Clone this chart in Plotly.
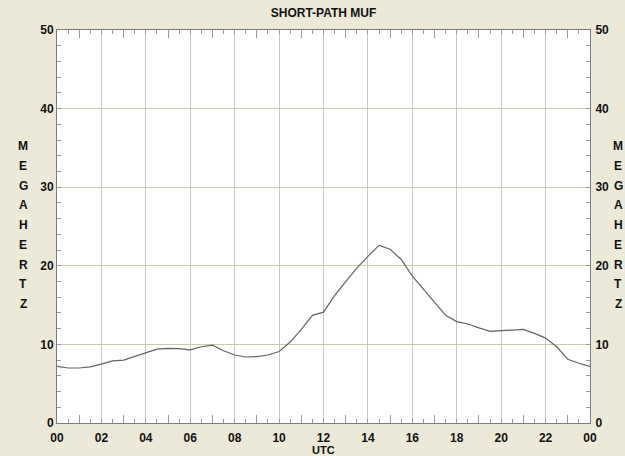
import plotly.graph_objects as go

hours = [i * 0.5 for i in range(49)]
muf = [7.2, 7.0, 7.0, 7.15, 7.5, 7.9, 8.0, 8.5, 9.0, 9.4,
       9.5, 9.45, 9.3, 9.7, 9.9, 9.2, 8.65, 8.4, 8.45, 8.65,
       9.1, 10.3, 11.9, 13.7, 14.1, 16.2, 18.0, 19.7, 21.2, 22.6,
       22.1, 20.8, 18.7, 17.0, 15.3, 13.7, 12.9, 12.6, 12.1, 11.65,
       11.75, 11.8, 11.9, 11.4, 10.8, 9.7, 8.1, 7.6, 7.2]

x_tickvals = list(range(0, 25, 2))
x_ticktext = ["00", "02", "04", "06", "08", "10", "12", "14", "16", "18", "20", "22", "00"]
odd_hours = list(range(1, 24, 2))
y_tickvals = [0, 10, 20, 30, 40, 50]
ylabel_letters = list("MEGAHERTZ")
title_text = "SHORT-PATH MUF"
xtitle_text = "UTC"

BG = "#ECE9D8"
GRID = "#cdc8b4"
TICK = "#a09890"
FONT = dict(family="Liberation Sans, Arial, sans-serif", size=12, color="#111111")

W, H = 625, 456
PL, PR, PT, PB = 57, 590, 30, 423   # plot area in window pixels
L, R, T, B = PL, W - PR, PT, H - PB
pw, ph = PR - PL, PB - PT

fig = go.Figure()
fig.add_trace(go.Scatter(x=hours, y=muf, mode="lines",
                         line=dict(color="#626262", width=1.2), hoverinfo="skip",
                         showlegend=False))
# invisible helper traces so the extra axes render
fig.add_trace(go.Scatter(x=hours, y=muf, mode="lines", line=dict(width=0),
                         opacity=0, xaxis="x", yaxis="y2", showlegend=False, hoverinfo="skip"))
fig.add_trace(go.Scatter(x=hours, y=muf, mode="lines", line=dict(width=0),
                         opacity=0, xaxis="x2", yaxis="y", showlegend=False, hoverinfo="skip"))

fig.update_layout(
    width=W, height=H,
    margin=dict(l=L, r=R, t=T, b=B, autoexpand=False),
    paper_bgcolor=BG, plot_bgcolor="white",
    font=FONT,
    title=dict(text="<b>" + title_text + "</b>", x=((PL + PR) / 2) / W, xanchor="center",
               y=1 - 13 / H, yanchor="middle", font=dict(size=12)),
    xaxis=dict(range=[0, 24], tickvals=x_tickvals, ticktext=["<b>" + t + "</b>" for t in x_ticktext],
               showgrid=True, gridcolor=GRID, gridwidth=1, automargin=False,
               ticks="inside", ticklen=0, tickcolor=TICK, ticklabelstandoff=4,
               minor=dict(dtick=0.5, tick0=0, ticks="inside", ticklen=4, tickcolor=TICK, showgrid=False),
               showline=True, linecolor="#7a7a7a", linewidth=1, mirror="ticks",
               zeroline=False, fixedrange=True),
    xaxis2=dict(range=[0, 24], overlaying="x", tickvals=odd_hours, showticklabels=False,
                ticks="inside", ticklen=8, tickcolor=TICK, showgrid=False, zeroline=False,
                mirror="ticks", showline=False, side="bottom", automargin=False),
    yaxis=dict(range=[0, 50], tickvals=y_tickvals, ticktext=["<b>%d</b>" % v for v in y_tickvals],
               showgrid=True, gridcolor=GRID, gridwidth=1, automargin=False,
               ticks="inside", ticklen=0, tickcolor=TICK,
               minor=dict(dtick=2, tick0=0, ticks="inside", ticklen=4, tickcolor=TICK, showgrid=False),
               showline=True, linecolor="#7a7a7a", linewidth=1, mirror=True,
               zeroline=False, fixedrange=True),
    yaxis2=dict(range=[0, 50], overlaying="y", side="right", automargin=False,
                tickvals=y_tickvals, ticktext=["<b>%d</b>" % v for v in y_tickvals],
                showgrid=False, zeroline=False,
                ticks="inside", ticklen=0, tickcolor=TICK, ticklabelstandoff=2,
                minor=dict(dtick=2, tick0=0, ticks="inside", ticklen=4, tickcolor=TICK, showgrid=False),
                showline=True, linecolor="#7a7a7a"),
)

# vertical stacked axis labels
for i, ch in enumerate(ylabel_letters):
    ypix = 146 + i * 19.75
    yp = (PB - ypix) / ph
    for xpix in (23, 618):
        fig.add_annotation(text="<b>" + ch + "</b>", x=(xpix - PL) / pw, y=yp,
                           xref="paper", yref="paper", showarrow=False,
                           xanchor="center", yanchor="middle", font=dict(size=12))

fig.add_annotation(text="<b>" + xtitle_text + "</b>", x=0.5, y=(PB - 450) / ph,
                   xref="paper", yref="paper", showarrow=False,
                   xanchor="center", yanchor="middle", font=dict(size=11))

fig.write_html("out.html", config={"displayModeBar": False},
               post_script="document.body.style.margin='0';document.body.style.overflow='hidden';")
